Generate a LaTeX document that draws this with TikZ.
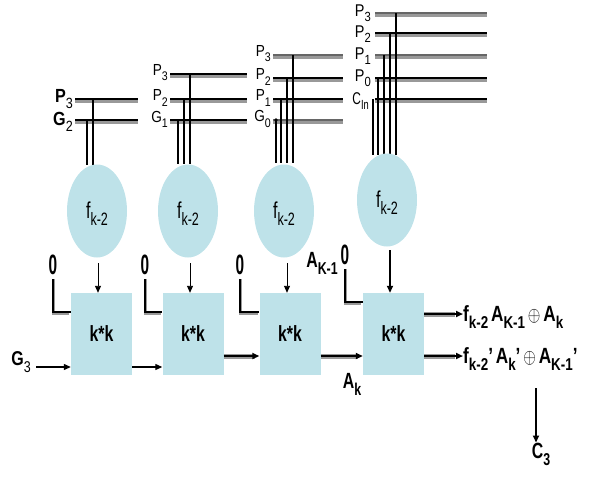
\documentclass[tikz,border=0pt]{standalone}
\usepackage{fontspec}
\setmainfont{Liberation Sans}
\usetikzlibrary{shapes.geometric,arrows.meta}
\definecolor{pale}{RGB}{190,226,233}
\newcommand\nar[2][0.72]{\scalebox{#1}[1]{#2}}
\newcommand\lo[1]{\raisebox{-0.6ex}{\scalebox{0.78}{#1}}}
\tikzset{
  wire/.style={line width=4.4pt, draw=black!40, yshift=-1.8pt},
  core/.style={line width=1.8pt, draw=black},
  gcore/.style={line width=1.6pt, draw=black!60},
  drop/.style={line width=1.1pt, draw=black},
  ell/.style={ellipse, fill=pale, minimum width=60pt, minimum height=93pt, inner sep=0pt},
  kbox/.style={rectangle, fill=pale, minimum width=61pt, minimum height=82pt, inner sep=0pt,
    font=\fontsize{22}{22}\selectfont\bfseries},
  arr/.style={-{Triangle[length=7pt,width=6pt]}, line width=1.2pt},
  shadow/.style={line width=5pt, draw=black!40},
  lbig/.style={font=\fontsize{19}{19}\selectfont\bfseries, inner sep=0pt},
  lmid/.style={font=\fontsize{16}{16}\selectfont, inner sep=0pt},
  lhi/.style={font=\fontsize{17}{17}\selectfont, inner sep=0pt},
  zero/.style={font=\fontsize{28}{28}\selectfont\bfseries, inner sep=0pt},
  outl/.style={font=\fontsize{22}{22}\selectfont\bfseries, inner sep=0pt},
}
\begin{document}
\begin{tikzpicture}[x=1pt,y=-1pt]
\useasboundingbox (0,0) rectangle (595,477);
% ---------- wires group 1
\foreach \y/\c in {99/core,120/core}{\draw[wire] (75,\y) -- (138,\y); \draw[\c] (75,\y) -- (138,\y);}
\node[lbig,anchor=east] (g1p3) at (73,99) {\nar[0.85]{P\lo{\mdseries 3}}};
\node[lbig,anchor=east] (g1g2) at (73,122) {\nar[0.85]{G\lo{\mdseries 2}}};
\draw[drop] (87,120) -- (87,165);
\draw[drop] (93,99) -- (93,165);
% ---------- wires group 2
\foreach \y/\c in {74/core,99/core,120/core}{\draw[wire] (170,\y) -- (247,\y); \draw[\c] (170,\y) -- (247,\y);}
\node[lmid,anchor=east] (g2p3) at (168,73) {\nar[0.85]{P\lo{3}}};
\node[lmid,anchor=east] (g2p2) at (168,98) {\nar[0.85]{P\lo{2}}};
\node[lmid,anchor=east] (g2g1) at (168,119) {\nar[0.85]{G\lo{1}}};
\draw[drop] (178,120) -- (178,164);
\draw[drop] (184,99) -- (184,164);
\draw[drop] (190,74) -- (190,164);
% ---------- wires group 3
\foreach \y/\c in {55/gcore,78/core,99/core,120/gcore}{\draw[wire] (273,\y) -- (343,\y); \draw[\c] (273,\y) -- (343,\y);}
\node[lmid,anchor=east] (g3p3) at (271,54) {\nar[0.85]{P\lo{3}}};
\node[lmid,anchor=east] (g3p2) at (271,77) {\nar[0.85]{P\lo{2}}};
\node[lmid,anchor=east] (g3p1) at (271,98) {\nar[0.85]{P\lo{1}}};
\node[lmid,anchor=east] (g3g0) at (271,119) {\nar[0.85]{G\lo{0}}};
\fill (276,120) circle (1.8pt);
\draw[drop] (276,120) -- (276,163);
\draw[drop] (281,99) -- (281,163);
\draw[drop] (287,78) -- (287,163);
\draw[drop] (293,55) -- (293,163);
% ---------- wires group 4
\foreach \y/\c in {13/gcore,33/core,55/gcore,78/core,99/core}{\draw[wire] (375,\y) -- (487,\y); \draw[\c] (375,\y) -- (487,\y);}
\node[lhi,anchor=east] (g4p3) at (371,13) {\nar[0.85]{P\lo{3}}};
\node[lhi,anchor=east] (g4p2) at (371,34) {\nar[0.85]{P\lo{2}}};
\node[lhi,anchor=east] (g4p1) at (371,56) {\nar[0.85]{P\lo{1}}};
\node[lhi,anchor=east] (g4p0) at (371,78) {\nar[0.85]{P\lo{0}}};
\node[lhi,anchor=east] (g4cin) at (369,101) {\nar[0.7]{C\lo{In}}};
\draw[drop] (373,99) -- (373,155);
\draw[drop] (378,78) -- (378,155);
\draw[drop] (384,55) -- (384,155);
\draw[drop,line width=1.6pt] (390,33) -- (390,155);
\draw[drop] (396,13) -- (396,155);
% ---------- ellipses
\node[ell] (e1) at (97,211) {};
\node[ell] (e2) at (188,211) {};
\node[ell] (e3) at (284,211) {};
\node[ell] (e4) at (387,200) {};
\foreach \e in {e1,e2,e3,e4}{\node[font=\fontsize{23}{23}\selectfont] at ([yshift=-3pt]\e.center) {\nar[0.7]{f\lo{k-2}}};}
% ---------- boxes
\node[kbox] (b1) at (101.5,334) {\nar[0.72]{k*k}};
\node[kbox] (b2) at (193,334) {\nar[0.72]{k*k}};
\node[kbox] (b3) at (290,334) {\nar[0.72]{k*k}};
\node[kbox] (b4) at (393.5,334) {\nar[0.72]{k*k}};
% ---------- ellipse to box arrows
\draw[arr,line width=0.9pt] (98,263) -- (98,0 |- b1.north);
\draw[arr,line width=0.9pt] (190,263) -- (190,0 |- b2.north);
\draw[arr,line width=0.9pt] (287,263) -- (287,0 |- b3.north);
\draw[arr,line width=1.6pt] (390,250) -- (390,0 |- b4.north);
% ---------- zero feeds
\node[zero] (z1) at (53,265) {\nar[0.55]{0}};
\node[zero] (z2) at (145,265) {\nar[0.55]{0}};
\node[zero] (z3) at (240,265) {\nar[0.55]{0}};
\node[zero] (z4) at (345,255) {\nar[0.55]{0}};
\foreach \z/\b/\yy in {z1/b1/312,z2/b2/312,z3/b3/312,z4/b4/302}{
  \draw[line width=3pt,draw=black!40,xshift=1.5pt,yshift=-1.5pt] ([yshift=-4pt]\z.south) |- ([xshift=-1.5pt]\b.west |- 0,\yy);
  \draw[line width=1.4pt] ([yshift=-4pt]\z.south) |- (\b.west |- 0,\yy);
}
\node[outl] (ak1) at (322,263) {\nar[0.72]{A\lo{K-1}}};
% ---------- horizontal chain
\node[font=\fontsize{20}{20}\selectfont\bfseries,inner sep=0pt] (g3) at (21,362) {\nar[0.8]{G\lo{\mdseries 3}}};
\draw[arr] (36,367) -- (b1.west |- 0,367);
\draw[arr] (b1.east |- 0,367) -- (b2.west |- 0,367);
\draw[shadow] (b2.east |- 0,356) -- (255,356);
\draw[arr,line width=2pt] (b2.east |- 0,356) -- (b3.west |- 0,356);
\draw[shadow] (b3.east |- 0,356) -- (358,356);
\draw[arr,line width=2pt] (b3.east |- 0,356) -- (b4.west |- 0,356);
\node[outl] (ak) at (352,384) {\nar[0.72]{A\lo{k}}};
% ---------- outputs
\node[outl,anchor=west] (o1) at (463,317) {\nar[0.78]{f\lo{k-2}\,A\lo{K-1}\,$\oplus$\,A\lo{k}}};
\node[outl,anchor=west] (o2) at (463,359) {\nar[0.78]{f\lo{k-2}’\,A\lo{k}’\,$\oplus$\,A\lo{K-1}’}};
\draw[shadow] (b4.east |- 0,314) -- (455,314);
\draw[arr,line width=2pt] (b4.east |- 0,314) -- (o1.west |- 0,314);
\draw[shadow] (b4.east |- 0,356) -- (455,356);
\draw[arr,line width=2pt] (b4.east |- 0,356) -- (o2.west |- 0,356);
\node[outl] (c3) at (541,454) {\nar[0.72]{C\lo{3}}};
\draw[arr,line width=2.2pt] (536,388) -- (536,0 |- c3.north);
\end{tikzpicture}
\end{document}
